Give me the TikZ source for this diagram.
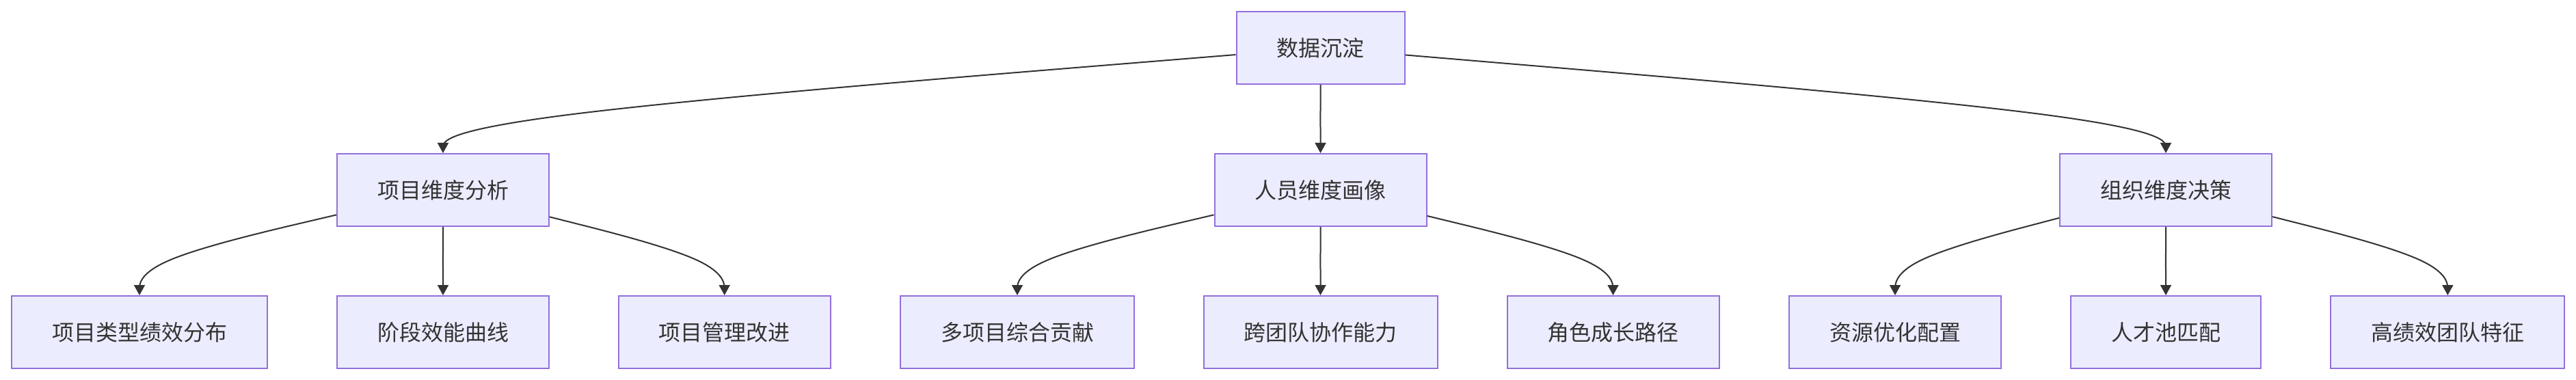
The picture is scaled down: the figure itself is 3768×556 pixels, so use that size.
\documentclass[tikz,border=0pt]{standalone}
\usepackage{fontspec}
\newfontfamily\cjk{Noto Sans CJK SC}
\usetikzlibrary{calc,arrows.meta}
\definecolor{fillc}{HTML}{ECECFF}
\definecolor{strokec}{HTML}{9370DB}
\definecolor{linec}{HTML}{333333}
\definecolor{txtc}{HTML}{333333}
\newcommand\basisedge[2]{%
  \path (#2.north) ++(0,-50) coordinate (mB);
  \path (mB) -- (#1) coordinate[pos=1] (mA);
  \draw[edge] (mA) -- ($(mA)!1/6!(mB)$)
    .. controls ($(mA)!1/3!(mB)$) and ($(mA)!2/3!(mB)$) .. ($1/6*(mA)+4/6*(mB)+1/6*(#2.north)$)
    .. controls ($(mB)!1/3!(#2.north)$) and ($(mB)!2/3!(#2.north)$) .. ($(mB)!5/6!(#2.north)$)
    -- (#2.north);
}
\begin{document}
\begin{tikzpicture}[x=1pt,y=-1pt,
  box/.style={draw=strokec, fill=fillc, line width=2pt, minimum height=106pt,
    inner sep=0pt, text=txtc, font=\cjk\fontsize{32}{38}\selectfont},
  edge/.style={draw=linec, line width=2pt, -{Triangle[length=15pt,width=16pt]}}]
\useasboundingbox (0,0) rectangle (3768,556);
\node[box, minimum width=246pt] (root) at (1931.5,70) {数据沉淀};
\node[box, minimum width=310pt] (p1) at (648,278) {项目维度分析};
\node[box, minimum width=310pt] (p2) at (1931.5,278) {人员维度画像};
\node[box, minimum width=310pt] (p3) at (3168,278) {组织维度决策};
\node[box, minimum width=374pt] (c1) at (204,486) {项目类型绩效分布};
\node[box, minimum width=310pt] (c2) at (648,486) {阶段效能曲线};
\node[box, minimum width=310pt] (c3) at (1059.7,486) {项目管理改进};
\node[box, minimum width=342pt] (c4) at (1488,486) {多项目综合贡献};
\node[box, minimum width=342pt] (c5) at (1931.5,486) {跨团队协作能力};
\node[box, minimum width=310pt] (c6) at (2359.5,486) {角色成长路径};
\node[box, minimum width=310pt] (c7) at (2772,486) {资源优化配置};
\node[box, minimum width=278pt] (c8) at (3168,486) {人才池匹配};
\node[box, minimum width=342pt] (c9) at (3580.3,486) {高绩效团队特征};
\basisedge{root}{p1}
\basisedge{root}{p2}
\basisedge{root}{p3}
\basisedge{p1}{c1}
\basisedge{p1}{c2}
\basisedge{p1}{c3}
\basisedge{p2}{c4}
\basisedge{p2}{c5}
\basisedge{p2}{c6}
\basisedge{p3}{c7}
\basisedge{p3}{c8}
\basisedge{p3}{c9}
\end{tikzpicture}
\end{document}
